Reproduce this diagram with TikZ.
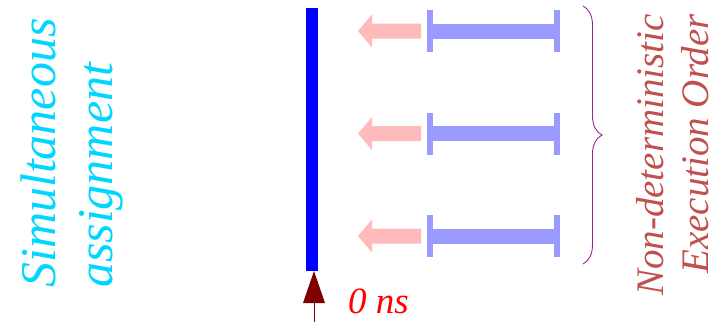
\documentclass[tikz,border=0pt]{standalone}
\usepackage{fontspec}
\setmainfont{Liberation Serif}
\usetikzlibrary{decorations.pathreplacing}
\definecolor{cyantxt}{RGB}{0,214,255}
\definecolor{redtxt}{RGB}{192,80,77}
\definecolor{pinkarr}{RGB}{255,187,187}
\definecolor{ibar}{RGB}{155,155,255}
\definecolor{bracecol}{RGB}{150,40,150}
\definecolor{darkred}{RGB}{128,0,0}
\tikzset{
  ibarfill/.style={fill=ibar, draw=none},
  pinkfill/.style={fill=pinkarr, draw=none},
  sidetext/.style={rotate=90, inner sep=0pt, font=\itshape},
}
\begin{document}
\begin{tikzpicture}[x=1pt,y=-1pt]
\useasboundingbox (0,0) rectangle (722,327);
% left text
\node[sidetext, text=cyantxt, align=left, anchor=base west, font=\fontsize{50}{57}\selectfont\itshape] (simtxt) at (112,288) {Simultaneous\\assignment};
% blue bar
\fill[blue] (306,8) rectangle (318,271);
% time arrow
\coordinate (tbot) at (314,322);
\coordinate (tmid) at (314,303);
\draw[darkred, line width=1pt] (tbot) -- (tmid);
\fill[darkred] (303,303) -- (314,271) -- (325,303) -- cycle;
\node[text=red, anchor=base west, inner sep=0pt, font=\fontsize{37}{40}\selectfont\itshape] (zerons) at (348,313) {0 ns};
% rows
\foreach \y in {31,133.5,236}{
  \fill[pinkfill] (358,\y) -- (372,\y-16.5) -- (372,\y-7.5) -- (421,\y-7.5) -- (421,\y+7.5) -- (372,\y+7.5) -- (372,\y+16.5) -- cycle;
  \fill[ibarfill] (427,\y-7.5) rectangle (560,\y+7.5);
  \fill[ibarfill] (427,\y-21) rectangle (433,\y+21);
  \fill[ibarfill] (554,\y-21) rectangle (560,\y+21);
}
% brace
\coordinate (btop) at (583,6);
\coordinate (bbot) at (583,264);
\draw[bracecol, line width=0.9pt, decorate, decoration={brace, amplitude=19pt}] (btop) -- (bbot);
% right text
\node[sidetext, text=redtxt, align=right, anchor=base east, font=\fontsize{39}{45}\selectfont\itshape] (ndtxt) at (708,14) {Non-deterministic\\Execution Order};
\end{tikzpicture}
\end{document}
